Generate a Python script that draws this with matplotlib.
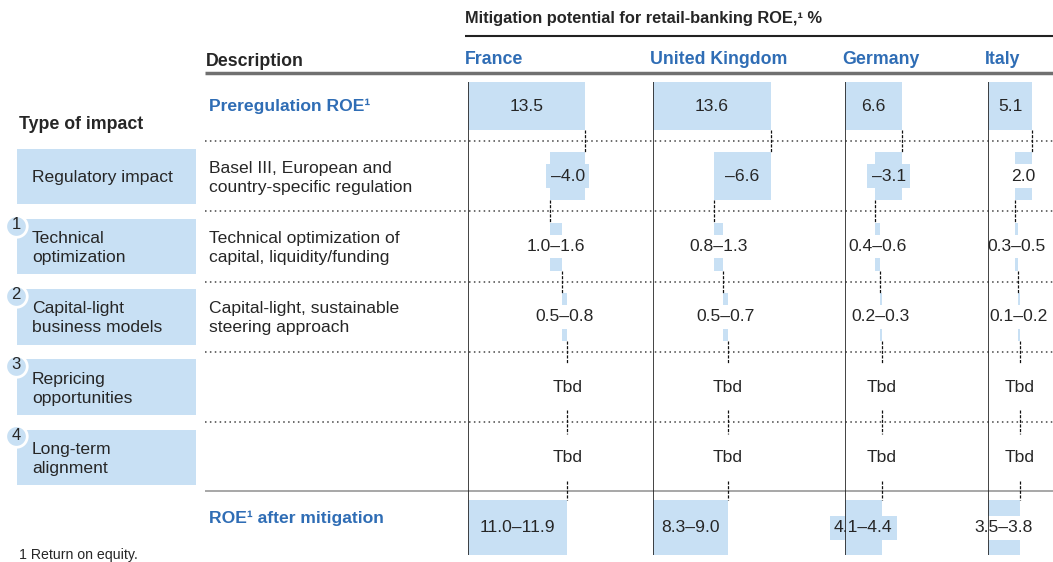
import numpy as np
import matplotlib.pyplot as plt

plt.rcParams['font.family'] = ['Liberation Sans', 'DejaVu Sans']

# data
countries = ['France', 'United Kingdom', 'Germany', 'Italy']
pre_roe = [13.5, 13.6, 6.6, 5.1]
reg_impact = [-4.0, -6.6, -3.1, -2.0]
reg_labels = ['–4.0', '–6.6', '–3.1', '2.0']
tech_lo = [1.0, 0.8, 0.4, 0.3]
tech_hi = [1.6, 1.3, 0.6, 0.5]
cap_lo = [0.5, 0.5, 0.2, 0.1]
cap_hi = [0.8, 0.7, 0.3, 0.2]
final_lo = [11.0, 8.3, 4.1, 3.5]
final_hi = [11.9, 9.0, 4.4, 3.8]

impact_types = ['Regulatory impact', 'Technical\noptimization', 'Capital-light\nbusiness models',
                'Repricing\nopportunities', 'Long-term\nalignment']
impact_nums = ['', '1', '2', '3', '4']
descriptions = ['', 'Basel III, European and\ncountry-specific regulation',
                'Technical optimization of\ncapital, liquidity/funding',
                'Capital-light, sustainable\nsteering approach', '', '']

BLUE = '#c8e0f4'
BLUE_TXT = '#2f6db5'
TXT = '#262626'

W, H = 1053, 562
row0, row_h = 106, 70.3
y_top = -row0 / row_h
y_bot = (H - row0) / row_h
px_per_unit = 8.67
country_x = [468, 653, 845, 988]
fs = 12.6

fig = plt.figure(figsize=(W / 100, H / 100), dpi=100)
bg = fig.add_axes([0, 0, 1, 1])
bg.set_xlim(0, W)
bg.set_ylim(y_bot, y_top)
bg.axis('off')

# headers
bg.text(465, -1.25, 'Mitigation potential for retail-banking ROE,¹ %', fontsize=11.8, fontweight='bold',
        color=TXT, va='center')
bg.hlines(-1.0, 465, W, color='#222222', lw=1.5)
bg.text(206, -0.63, 'Description', fontsize=12.8, fontweight='bold', color=TXT, va='center')
for i, c in enumerate(countries):
    bg.text(country_x[i] - 3, -0.66, c, fontsize=12.8, fontweight='bold', color=BLUE_TXT, va='center')
bg.hlines(-0.47, 205, W, color='#707070', lw=2.5)

bg.text(19, 0.27, 'Type of impact', fontsize=12.8, fontweight='bold', color=TXT, va='center')

# row separators
for b in np.arange(0.5, 5.0, 1.0):
    bg.hlines(b, 205, W, color='#444444', lw=1.1, linestyle=(0, (1, 2.2)))
bg.hlines(5.47, 205, W, color='#a0a0a0', lw=1.3)

# left impact boxes
rows = np.arange(1, 6)
bg.barh(rows, 179, left=17, height=0.79, color=BLUE)
for r, t, n in zip(rows, impact_types, impact_nums):
    bg.text(32, r + 0.02, t, fontsize=fs, color=TXT, va='center', linespacing=1.32)
    if n:
        bg.scatter(16, r - 0.3, s=240, color=BLUE, edgecolors='white', linewidths=2, zorder=3)
        bg.text(16, r - 0.32, n, fontsize=12, color=TXT, ha='center', va='center', zorder=4)

for r, d in enumerate(descriptions):
    if d:
        bg.text(209, r + 0.02, d, fontsize=fs, color=TXT, va='center', linespacing=1.32)
bg.text(209, 0, 'Preregulation ROE¹', fontsize=fs, fontweight='bold', color=BLUE_TXT, va='center')
bg.text(209, 5.87, 'ROE¹ after mitigation', fontsize=fs, fontweight='bold', color=BLUE_TXT, va='center')

bg.text(19, 6.39, '1 Return on equity.', fontsize=10.2, color=TXT, va='center')

# waterfall per country
h = 0.68
hf = 0.78
final_box = [BLUE, BLUE, BLUE, 'white']
for i in range(len(countries)):
    ax = fig.add_axes([country_x[i] / W, 0, 150 / W, 1])
    ax.set_xlim(0, 150 / px_per_unit)
    ax.set_ylim(y_bot, y_top)
    ax.axis('off')
    ax.patch.set_alpha(0)

    tech_mid = (tech_lo[i] + tech_hi[i]) / 2
    cap_mid = (cap_lo[i] + cap_hi[i]) / 2
    fin_mid = (final_lo[i] + final_hi[i]) / 2
    cum1 = pre_roe[i] + reg_impact[i]
    cum2 = cum1 + tech_mid
    cum3 = cum2 + cap_mid

    ax.barh(0, pre_roe[i], height=h, color=BLUE)
    ax.barh(1, reg_impact[i], left=pre_roe[i], height=h, color=BLUE)
    ax.barh(2, tech_mid, left=cum1, height=h, color=BLUE)
    ax.barh(3, cap_mid, left=cum2, height=h, color=BLUE)
    ax.barh(6, fin_mid, height=hf, color=BLUE)

    def lab(x, y, s, fc=None):
        kw = dict(fontsize=fs, color=TXT, ha='center', va='center', zorder=4)
        if fc:
            kw['bbox'] = dict(boxstyle='square,pad=0.25', fc=fc, ec='none')
        ax.text(x, y, s, **kw)

    lab(pre_roe[i] / 2, 0, f'{pre_roe[i]:.1f}')
    lab(pre_roe[i] + reg_impact[i] / 2, 1, reg_labels[i],
        BLUE if reg_labels[i].startswith('–') else 'white')
    lab(cum1 + tech_mid / 2, 2, f'{tech_lo[i]:.1f}–{tech_hi[i]:.1f}', 'white')
    lab(cum2 + cap_mid / 2, 3, f'{cap_lo[i]:.1f}–{cap_hi[i]:.1f}', 'white')
    lab(cum3, 4, 'Tbd', 'white')
    lab(cum3, 5, 'Tbd', 'white')
    lab(fin_mid / 2, 6, f'{final_lo[i]:.1f}–{final_hi[i]:.1f}', final_box[i])

    # dashed connectors between rows
    ends = [pre_roe[i], cum1, cum2, cum3, cum3, cum3]
    has_bar = [True, True, True, True, False, False, True]
    for k in range(6):
        top = k + h / 2 if has_bar[k] else k + 0.5 - 0.17
        bot = (k + 1 - (hf if k == 5 else h) / 2) if has_bar[k + 1] else k + 0.5 + 0.17
        ax.vlines(ends[k], top, bot, color='#111111', lw=0.9, linestyle=(0, (2.5, 1.2)), zorder=5)

    ax.vlines(0, -h / 2, 6 + hf / 2, color='#222222', lw=1.2, zorder=5)

fig.savefig('out.png', dpi=100)
